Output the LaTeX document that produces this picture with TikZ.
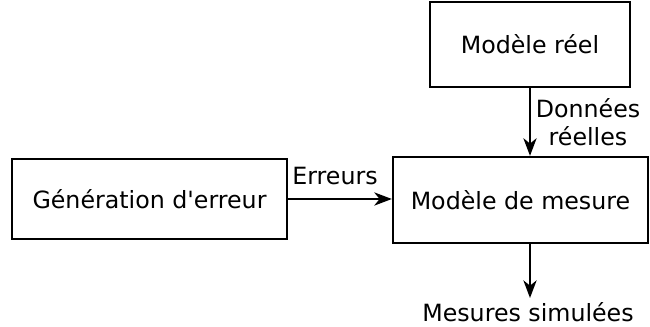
\documentclass[tikz,border=0pt]{standalone}
\usepackage{fontspec}
\setmainfont{DejaVu Sans}
\usetikzlibrary{arrows.meta,positioning}

\begin{document}
\begin{tikzpicture}[x=0.02cm, y=-0.02cm,
    bloc/.style={draw, line width=1.3pt, inner sep=0pt, font=\fontsize{13.5}{16}\selectfont},
    fleche/.style={-{Stealth[length=10pt, width=7.5pt, inset=3pt]}, line width=1.3pt},
    lbl/.style={font=\fontsize{13.5}{16}\selectfont, inner sep=1pt}]
      \useasboundingbox (0,0) rectangle (650,327);
      \node[bloc, minimum width=200*0.02cm, minimum height=85*0.02cm] (reel) at (530,44.5) {Modèle réel};
      \node[bloc, minimum width=255*0.02cm, minimum height=86*0.02cm] (mesure) at (520.5,200) {Modèle de mesure};
      \node[bloc, minimum width=275*0.02cm, minimum height=80*0.02cm] (gen) at (149.5,199) {Génération d\textquotesingle erreur};
      \coordinate (sortie) at (530,298);
      \draw[fleche] (reel.south) -- (reel.south |- mesure.north);
      \draw[fleche] (gen.east) -- (gen.east -| mesure.west);
      \draw[fleche] (reel.south |- mesure.south) -- (sortie);
      \node[lbl, align=center] (donnees) at (588,122) {Données\\réelles};
      \node[lbl] (erreurs) at (335,176) {Erreurs};
      \node[lbl] (simul) at (528,312) {Mesures simulées};
    \end{tikzpicture}
\end{document}
